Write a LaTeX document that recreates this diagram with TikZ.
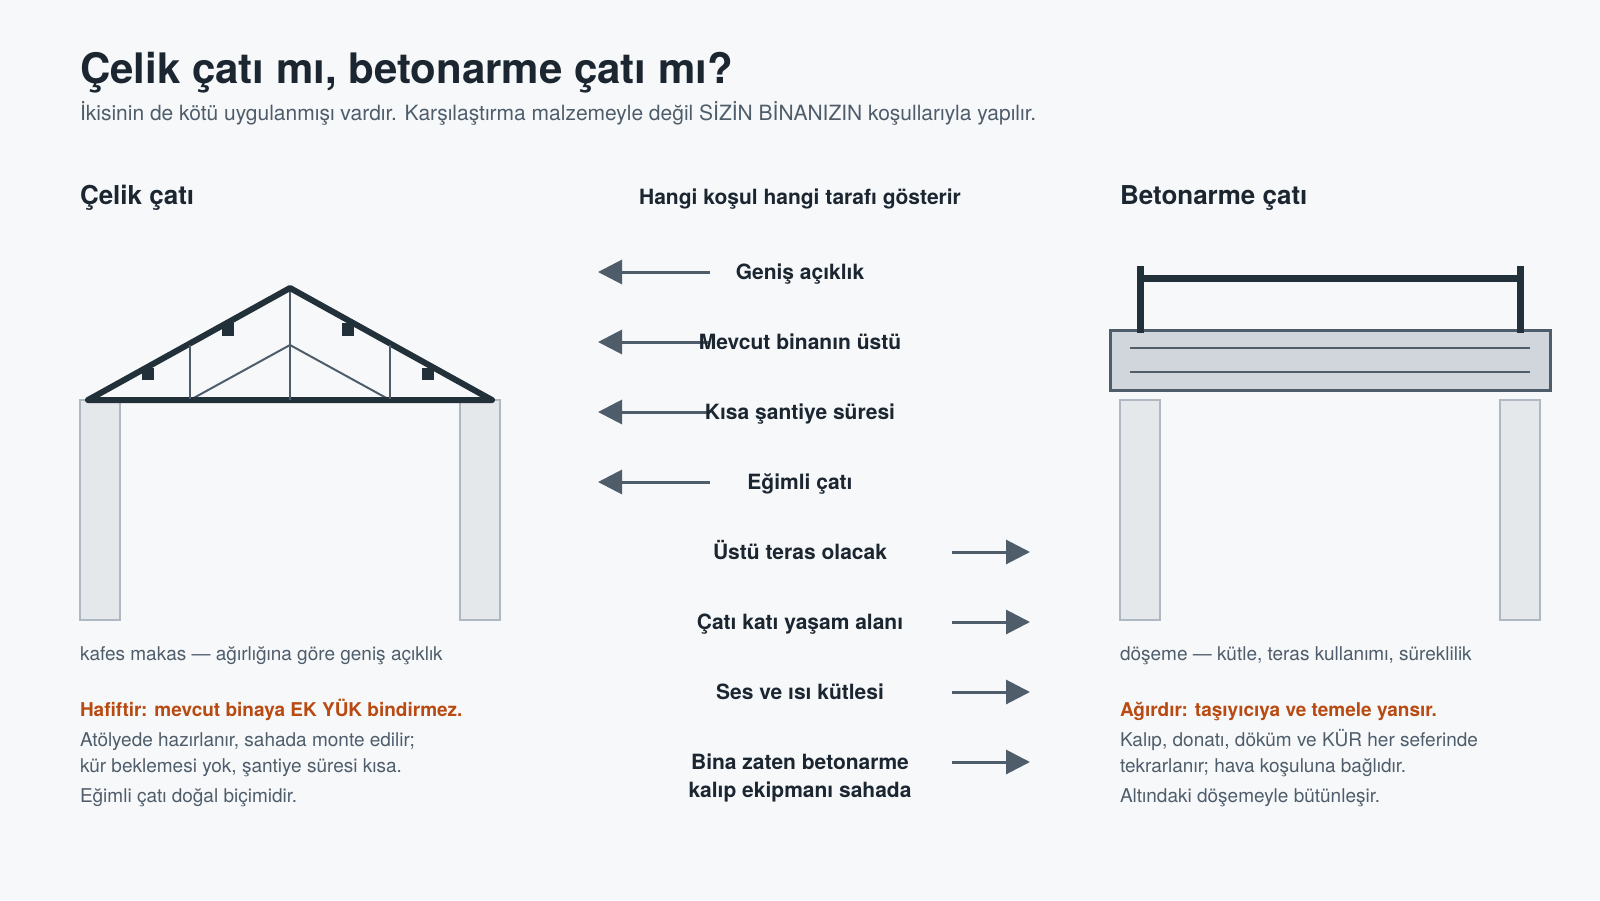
\documentclass[tikz,border=0pt]{standalone}
\usepackage{fontspec}
\setmainfont{TeX Gyre Heros}
\usetikzlibrary{arrows.meta}
\definecolor{bg}{HTML}{F6F8FA}
\definecolor{ink}{HTML}{1B2631}
\definecolor{steel}{HTML}{22303A}
\definecolor{slate}{HTML}{4F5D6B}
\definecolor{wallfill}{HTML}{E5E8EB}
\definecolor{wallline}{HTML}{B0B8C1}
\definecolor{slabfill}{HTML}{D0D6DC}
\definecolor{rust}{HTML}{B84A12}
\newcommand{\fs}[1]{\fontsize{#1*0.75}{#1*0.9}\selectfont}
\newcommand{\pxfont}[2]{\fontsize{#1}{#2}\selectfont}
\tikzset{
  x=0.75pt,y=-0.75pt,
  txt/.style={anchor=base west,inner sep=0pt,outer sep=0pt},
  titletxt/.style={txt,text=ink,font=\bfseries\pxfont{31.5pt}{36pt}},
  subtxt/.style={txt,text=slate,font=\pxfont{15.75pt}{20pt}},
  headtxt/.style={txt,text=ink,font=\bfseries\pxfont{19.5pt}{24pt}},
  midhead/.style={anchor=base,inner sep=0pt,text=ink,font=\bfseries\pxfont{15.75pt}{20pt}},
  midtxt/.style={anchor=base,inner sep=0pt,align=center,text=ink,font=\bfseries\pxfont{15.75pt}{20.7pt}},
  captxt/.style={txt,text=slate,font=\pxfont{14.25pt}{18pt}},
  warntxt/.style={txt,text=rust,font=\bfseries\pxfont{14.25pt}{18pt}},
  wall/.style={draw=wallline,fill=wallfill,line width=1.5pt},
  chord/.style={draw=steel,line width=4.5pt,line cap=round,line join=round},
  web/.style={draw=slate,line width=1.9pt},
  webthin/.style={draw=slate,line width=1.5pt},
  purlin/.style={fill=steel},
  arrowline/.style={draw=slate,line width=2.25pt,-{Triangle[length=18pt,width=18pt]}},
  rail/.style={draw=steel,line width=5.25pt},
  slab/.style={draw=slate,fill=slabfill,line width=2.25pt},
  rebar/.style={draw=slate,line width=1.9pt},
}
\begin{document}
\begin{tikzpicture}
\useasboundingbox[fill=bg] (0,0) rectangle (1600,900);
\node[titletxt] (title) at (80,83) {Çelik çatı mı, betonarme çatı mı?};
\node[subtxt] (sub) at (80,120) {İkisinin de kötü uygulanmışı vardır. Karşılaştırma malzemeyle değil SİZİN BİNANIZIN koşullarıyla yapılır.};
\node[headtxt] (hl) at (80,204) {Çelik çatı};
\node[midhead] (hm) at (800,204) {Hangi koşul hangi tarafı gösterir};
\node[headtxt] (hr) at (1120,204) {Betonarme çatı};
% left
\draw[wall] (80,400) rectangle (120,620);
\draw[wall] (460,400) rectangle (500,620);
\fill[purlin] (142,368) rectangle (154,380);
\fill[purlin] (222,323) rectangle (234,336);
\fill[purlin] (342,323) rectangle (354,336);
\fill[purlin] (422,368) rectangle (434,380);
\draw[web] (290,288) -- (290,400);
\draw[web] (190,345) -- (190,400);
\draw[web] (390,345) -- (390,400);
\draw[webthin] (190,400) -- (290,345) -- (390,400);
\draw[chord] (88,400) -- (290,288) -- (492,400) -- cycle;
\draw[web] (290,292) -- (290,400);
\draw[web] (190,345) -- (190,399);
\draw[web] (390,345) -- (390,399);
% right
\draw[wall] (1120,400) rectangle (1160,620);
\draw[wall] (1500,400) rectangle (1540,620);
\draw[slab] (1110,330) rectangle (1550,390);
\draw[rebar] (1130,348) -- (1530,348);
\draw[rebar] (1130,372) -- (1530,372);
\draw[rail] (1140,266) -- (1140,333);
\draw[rail] (1520,266) -- (1520,333);
\draw[rail] (1140,278) -- (1520,278);
% captions
\node[captxt] (cl) at (80,660) {kafes makas — ağırlığına göre geniş açıklık};
\node[captxt] (cr) at (1120,660) {döşeme — kütle, teras kullanımı, süreklilik};
\node[warntxt] (wl) at (80,716) {Hafiftir: mevcut binaya EK YÜK bindirmez.};
\node[captxt] (l1) at (80,746) {Atölyede hazırlanır, sahada monte edilir;};
\node[captxt] (l2) at (80,772) {kür beklemesi yok, şantiye süresi kısa.};
\node[captxt] (l3) at (80,802) {Eğimli çatı doğal biçimidir.};
\node[warntxt] (wr) at (1120,716) {Ağırdır: taşıyıcıya ve temele yansır.};
\node[captxt] (r1) at (1120,746) {Kalıp, donatı, döküm ve KÜR her seferinde};
\node[captxt] (r2) at (1120,772) {tekrarlanır; hava koşuluna bağlıdır.};
\node[captxt] (r3) at (1120,802) {Altındaki döşemeyle bütünleşir.};
% middle
\foreach \n/\y/\t in {a/279/Geniş açıklık,b/349/Mevcut binanın üstü,c/419/Kısa şantiye süresi,d/489/Eğimli çatı}{
  \pgfmathsetmacro{\ya}{\y-7}
  \coordinate (\n s) at (710,\ya);
  \coordinate (\n e) at (598,\ya);
  \draw[arrowline] (\n s) -- (\n e);
  \node[midtxt] (\n) at (800,\y) {\t};
}
\foreach \n/\y/\t in {e/559/Üstü teras olacak,f/629/Çatı katı yaşam alanı,g/699/Ses ve ısı kütlesi}{
  \pgfmathsetmacro{\ya}{\y-7}
  \coordinate (\n s) at (952,\ya);
  \coordinate (\n e) at (1030,\ya);
  \draw[arrowline] (\n s) -- (\n e);
  \node[midtxt] (\n) at (800,\y) {\t};
}
\coordinate (hs) at (952,762);
\coordinate (he) at (1030,762);
\draw[arrowline] (hs) -- (he);
\node[midtxt,anchor=base] (h) at (800,769) {Bina zaten betonarme};
\node[midtxt,anchor=base] (h2) at (800,797) {kalıp ekipmanı sahada};
\end{tikzpicture}
\end{document}
